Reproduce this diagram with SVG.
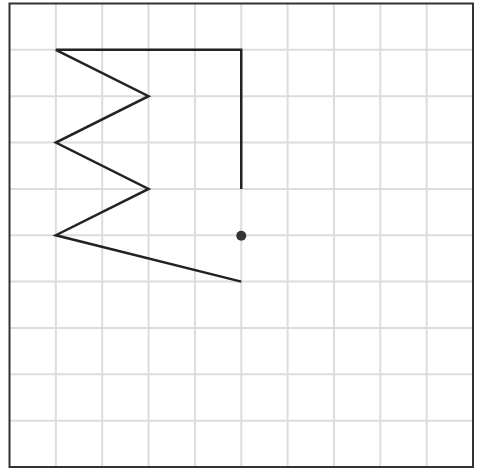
<svg xmlns="http://www.w3.org/2000/svg" width="478" height="470" viewBox="0 0 478 470">
<style>
.grid line{stroke:#dcdcdc;stroke-width:2}
.frame{fill:none;stroke:#333;stroke-width:2}
.path{fill:none;stroke:#222;stroke-width:2.5;stroke-linejoin:miter}
</style>
<rect width="478" height="470" fill="#fff"/>
<g class="grid">
<line x1="55.85" y1="3.5" x2="55.85" y2="467"/>
<line x1="102.2" y1="3.5" x2="102.2" y2="467"/>
<line x1="148.55" y1="3.5" x2="148.55" y2="467"/>
<line x1="194.9" y1="3.5" x2="194.9" y2="467"/>
<line x1="241.25" y1="3.5" x2="241.25" y2="467"/>
<line x1="287.6" y1="3.5" x2="287.6" y2="467"/>
<line x1="333.95" y1="3.5" x2="333.95" y2="467"/>
<line x1="380.3" y1="3.5" x2="380.3" y2="467"/>
<line x1="426.65" y1="3.5" x2="426.65" y2="467"/>
<line x1="9.5" y1="49.85" x2="473" y2="49.85"/>
<line x1="9.5" y1="96.2" x2="473" y2="96.2"/>
<line x1="9.5" y1="142.55" x2="473" y2="142.55"/>
<line x1="9.5" y1="188.9" x2="473" y2="188.9"/>
<line x1="9.5" y1="235.25" x2="473" y2="235.25"/>
<line x1="9.5" y1="281.6" x2="473" y2="281.6"/>
<line x1="9.5" y1="327.95" x2="473" y2="327.95"/>
<line x1="9.5" y1="374.3" x2="473" y2="374.3"/>
<line x1="9.5" y1="420.65" x2="473" y2="420.65"/>
</g>
<rect class="frame" x="9.5" y="3.5" width="463.5" height="463.5"/>
<g id="shape">
<polyline class="path" points="241.25,188.9 241.25,49.85 55.85,49.85 148.55,96.2 55.85,142.55 148.55,188.9 55.85,235.25 241.25,281.6"/>
</g>
<g id="dot">
<circle cx="241.25" cy="235.7" r="5" fill="#333"/>
</g>
</svg>
